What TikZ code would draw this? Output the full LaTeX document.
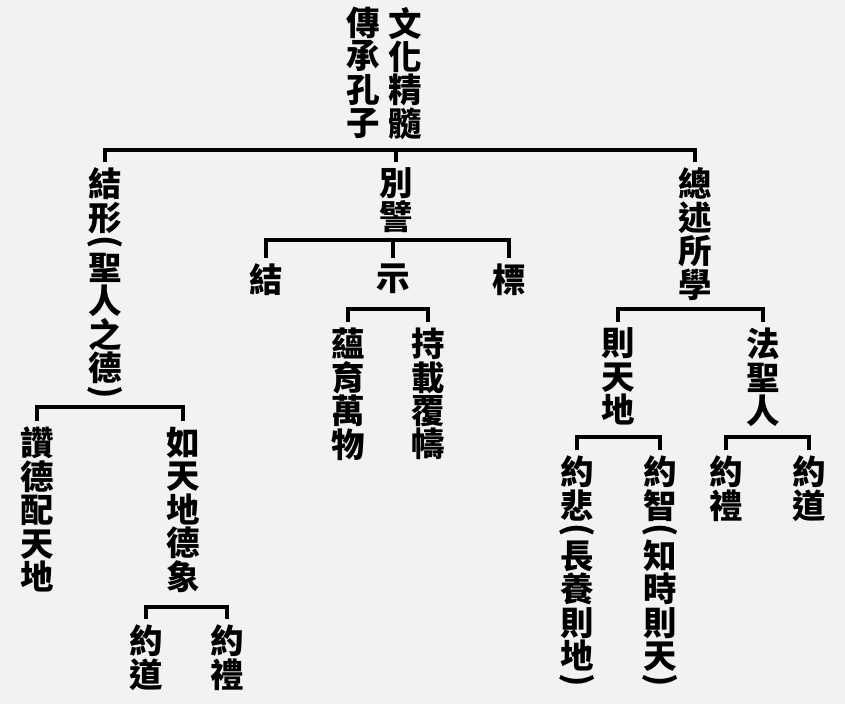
\documentclass[tikz,border=0pt]{standalone}
\usepackage{fontspec}
\setmainfont{Noto Sans CJK TC}
\definecolor{paper}{HTML}{F2F2F2}
\newcommand{\lpar}{\raisebox{.34em}{\rotatebox[origin=c]{-90}{(}}}
\newcommand{\rpar}{\raisebox{.34em}{\rotatebox[origin=c]{-90}{)}}}

\begin{document}
\begin{tikzpicture}[x=0.025cm, y=-0.025cm,
    wen/.style ={anchor=north, align=center, inner sep=0pt, outer sep=0.15cm,
      font=\bfseries\fontsize{23.8pt}{23.8pt}\selectfont},
    branch/.style ={line width=3pt}]
   \useasboundingbox[fill=paper] (0,0) rectangle (845,704);
   \node[wen] (title1) at (405,1) {文\\化\\精\\髓};
   \node[wen] (title2) at (363,1) {傳\\承\\孔\\子};
   \node[wen] (jiexing) at (105,162) {結\\形\\\lpar\\[-.5\baselineskip]聖\\人\\之\\德\\\rpar};
   \node[wen] (biepi) at (396,162) {別\\譬};
   \node[wen] (zongshu) at (695,162) {總\\述\\所\\學};
   \node[wen] (jie) at (266,258) {結};
   \node[wen] (shi) at (393,258) {示};
   \node[wen] (biao) at (509,258) {標};
   \node[wen] (yunyu) at (348,322) {蘊\\育\\萬\\物};
   \node[wen] (chizai) at (428,322) {持\\載\\覆\\幬};
   \node[wen] (zande) at (37,421) {讚\\德\\配\\天\\地};
   \node[wen] (rutian) at (183,421) {如\\天\\地\\德\\象};
   \node[wen] (yuedaoA) at (146,619) {約\\道};
   \node[wen] (yueliA) at (227,619) {約\\禮};
   \node[wen] (zetian) at (618,322) {則\\天\\地};
   \node[wen] (fasheng) at (763,322) {法\\聖\\人};
   \node[wen] (yuebei) at (577,450) {約\\悲\\\lpar\\[-.5\baselineskip]長\\養\\則\\地\\\rpar};
   \node[wen] (yuezhi) at (660,450) {約\\智\\\lpar\\[-.5\baselineskip]知\\時\\則\\天\\\rpar};
   \node[wen] (yueliB) at (726,450) {約\\禮};
   \node[wen] (yuedaoB) at (809,450) {約\\道};
   \coordinate (bar0) at (396,150);
   \coordinate (barbie) at (396,240);
   \coordinate (barshi) at (393,309);
   \coordinate (barjie) at (105,407);
   \coordinate (barru) at (183,607);
   \coordinate (barzong) at (695,309);
   \coordinate (barze) at (618,437);
   \coordinate (barfa) at (763,437);
   \draw[branch] (jiexing.north) |- (bar0) -| (zongshu.north);
   \draw[branch] (biepi.north) to (biepi.north |- bar0);
   \draw[branch] (jie.north) |- (barbie) -| (biao.north);
   \draw[branch] (shi.north) to (shi.north |- barbie);
   \draw[branch] (yunyu.north) |- (barshi) -| (chizai.north);
   \draw[branch] (zande.north) |- (barjie) -| (rutian.north);
   \draw[branch] (yuedaoA.north) |- (barru) -| (yueliA.north);
   \draw[branch] (zetian.north) |- (barzong) -| (fasheng.north);
   \draw[branch] (yuebei.north) |- (barze) -| (yuezhi.north);
   \draw[branch] (yueliB.north) |- (barfa) -| (yuedaoB.north);
 \end{tikzpicture}
\end{document}
